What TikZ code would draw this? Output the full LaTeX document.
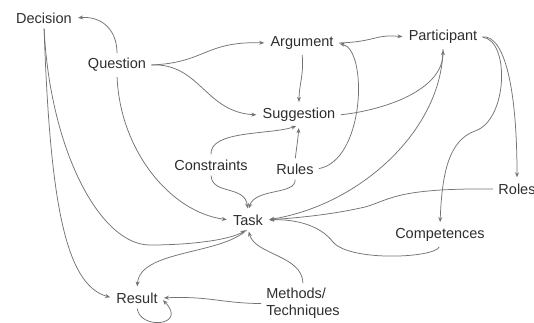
\documentclass[tikz,border=0pt]{standalone}
\usepackage{fontspec}
\setmainfont{Liberation Sans}
\usetikzlibrary{arrows.meta}

\begin{document}
\begin{tikzpicture}[x=1pt,y=-1pt,line width=0.7pt,>=Stealth]
\tikzset{lbl/.style={font=\fontsize{14.5}{17}\selectfont, text=black!82, inner sep=3pt},
  conn/.style={draw=black!55, line width=0.75pt, shorten <=2pt, shorten >=3pt,
  -{Stealth[length=5pt,width=4pt]}}}
\useasboundingbox (0,0) rectangle (534,322);
% ---- concepts ----
\node[lbl] (dec) at (44,18) {Decision};
\node[lbl] (que) at (117,65) {Question};
\node[lbl] (arg) at (302,43) {Argument};
\node[lbl] (par) at (443,37) {Participant};
\node[lbl] (sug) at (299,115) {Suggestion};
\node[lbl] (con) at (211,165) {Constraints};
\node[lbl] (rul) at (295,169) {Rules};
\node[lbl] (rol) at (517,189) {Roles};
\node[lbl] (tas) at (248,220) {Task};
\node[lbl] (com) at (440,235) {Competences};
\node[lbl] (res) at (137,298) {Result};
\node[lbl, align=left, anchor=north west] (met) at (263,285) {Methods/\\Techniques};
% ---- upper part ----
\draw[conn] (que.north) .. controls (117,30) and (102,16) .. (dec.east);
\draw[conn] (que.east) .. controls (205,63) and (205,41) .. (arg.west);
\draw[conn] (que.east) .. controls (200,63) and (205,112) .. (sug.west);
\draw[conn] (que.south) .. controls (120,150) and (170,212) .. (tas.west);
\draw[conn] (arg.south) .. controls (304,75) and (299,85) .. (sug.north);
\draw[conn] (arg.east) .. controls (375,42) and (375,34) .. (par.west);
\draw[conn] (rul.east) .. controls (365,160) and (368,50) .. (arg.east);
\draw[conn] (sug.east) .. controls (385,110) and (443,90) .. (par.south);
\draw[conn] (par.east) .. controls (505,35) and (517,90) .. (rol.north);
\draw[conn] (par.east) .. controls (510,40) and (508,120) .. (475,131)
  .. controls (450,140) and (442,170) .. (com.north);
% ---- around the task ----
\draw[conn] (con.north) .. controls (210,130) and (270,135) .. (sug.south);
\draw[conn] (rul.north) .. controls (297,145) and (298,138) .. (sug.south);
\draw[conn] (con.south) .. controls (212,195) and (245,185) .. (tas.north);
\draw[conn] (rul.south) .. controls (296,195) and (255,188) .. (tas.north);
\draw[conn] (par.south) .. controls (442,130) and (360,205) .. (tas.east);
\draw[conn] (rol.west) .. controls (395,188) and (390,200) .. (365,207)
  .. controls (330,215) and (295,218) .. (tas.east);
\draw[conn] (com.south) .. controls (435,258) and (350,262) .. (333,242)
  .. controls (320,225) and (295,219) .. (tas.east);
\draw[conn] (met.north) .. controls (302,255) and (255,255) .. (tas.south);
% ---- lower left ----
\draw[conn] (dec.south) .. controls (50,150) and (100,245) .. (150,245)
  .. controls (190,245) and (230,240) .. (tas.south);
\draw[conn] (dec.south) .. controls (50,200) and (65,285) .. (res.west);
\draw[conn] (tas.south) .. controls (220,255) and (140,250) .. (res.north);
\draw[conn] (met.west) .. controls (220,303) and (210,296) .. (res.east);
\draw[conn] (res.south) .. controls (140,330) and (188,326) .. (res.east);
\end{tikzpicture}
\end{document}
